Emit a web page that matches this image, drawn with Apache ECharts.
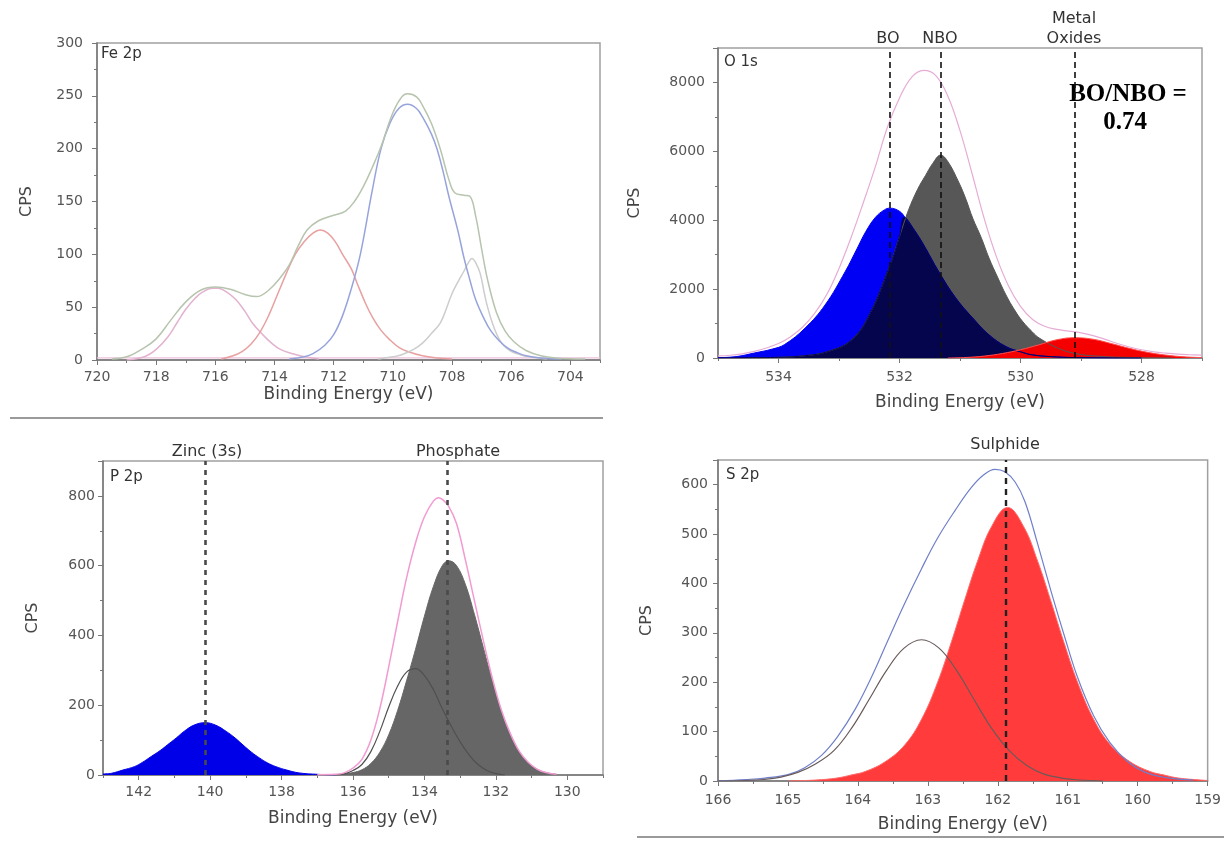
<!DOCTYPE html>
<html>
<head>
<meta charset="utf-8">
<title>XPS spectra</title>
<script src="https://cdn.jsdelivr.net/npm/echarts@6/dist/echarts.min.js"></script>
<style>
  html, body { margin: 0; padding: 0; background: #fff; }
  #chart { width: 1224px; height: 843px; }
</style>
</head>
<body>
<div id="chart"></div>
<script>
// ---- Fe 2p (binding energy eV, CPS) ----
const feXLabels = [704, 706, 708, 710, 712, 714, 716, 718, 720]
const feXMinor = [703, 705, 707, 709, 711, 713, 715, 717, 719]
const feEnvelope = [[719.5,1],[719,3],[718.5,10],[718,20],[717.5,38],[717,55],[716.5,66],[716,69],[715.5,67],[715,62],[714.6,60],[714.2,66],[713.8,78],[713.5,90],[713.2,108],[712.9,123],[712.5,132],[712,137],[711.6,141],[711.3,150],[711,164],[710.7,182],[710.4,202],[710,234],[709.7,249],[709.5,252],[709.2,249],[709,241],[708.7,224],[708.4,200],[708.1,170],[707.9,158],[707.6,156],[707.4,155],[707.2,136],[707,105],[706.8,76],[706.5,45],[706.2,27],[705.9,17],[705.5,9],[705,4],[704.5,2],[703.5,1]]
const feBlue = [[713.5,1],[713,3],[712.7,6],[712.3,14],[712,24],[711.7,42],[711.4,68],[711.1,100],[710.7,160],[710.4,200],[710.1,224],[709.8,238],[709.5,242],[709.2,238],[709,230],[708.7,214],[708.5,199],[708.3,178],[708.1,154],[707.8,122],[707.6,97],[707.4,76],[707.2,57],[706.9,38],[706.7,28],[706.4,18],[706.1,11],[705.8,7],[705.5,4],[705,2],[704.3,1]]
const feRed = [[715.8,1],[715.4,4],[715.1,8],[714.8,15],[714.5,26],[714.2,42],[713.9,62],[713.6,82],[713.3,100],[713,112],[712.7,120],[712.45,123],[712.2,120],[711.95,112],[711.7,100],[711.4,86],[711.2,72],[710.9,52],[710.7,41],[710.4,28],[710.1,19],[709.8,12],[709.5,8],[709,4],[708.5,2],[708,1]]
const fePink = [[719,0],[718.4,3],[718,10],[717.6,22],[717.3,35],[717,48],[716.7,58],[716.45,64],[716.1,68],[715.9,68],[715.6,64],[715.3,57],[715,46],[714.75,35],[714.4,24],[714.1,16],[713.8,10],[713.4,6],[713,3],[712.5,1]]
const feGray = [[710.5,1],[710,3],[709.7,5],[709.3,10],[709,16],[708.7,25],[708.4,35],[708.2,48],[708,63],[707.8,74],[707.6,84],[707.45,92],[707.33,96],[707.2,92],[707.05,82],[706.9,62],[706.8,50],[706.65,36],[706.5,25],[706.3,15],[706.05,9],[705.7,5],[705.4,3],[704.8,1]]
const feBaseline = [[720,2],[703,2]]

// ---- O 1s ----
const oXLabels = [528, 530, 532, 534]
const oXMinor = [527, 529, 531, 533, 535]
const oBO = [[535,10],[534.7,40],[534.4,145],[534.1,260],[533.9,390],[533.56,870],[533.23,1540],[532.9,2500],[532.7,3180],[532.56,3660],[532.4,4080],[532.25,4300],[532.16,4350],[532,4260],[531.9,4060],[531.75,3700],[531.6,3280],[531.35,2500],[531.07,1740],[530.79,1160],[530.52,670],[530.24,330],[530,180],[529.8,90],[529.4,30],[529,10],[528.5,3],[528,0]]
const oNBO = [[534.5,8],[534,20],[533.6,60],[533.2,180],[532.8,513],[532.5,1250],[532.16,2690],[532,3530],[531.85,4300],[531.7,4900],[531.57,5300],[531.45,5650],[531.32,5890],[531.2,5700],[531.02,5100],[530.9,4600],[530.79,4060],[530.65,3500],[530.52,2900],[530.38,2350],[530.24,1830],[530.1,1400],[529.96,1050],[529.8,750],[529.69,580],[529.4,300],[529.1,130],[528.7,50],[528.2,15],[527.5,3]]
const oOverlap = [[535,0],[534.5,8],[534,20],[533.6,60],[533.2,180],[532.8,513],[532.5,1250],[532.16,2690],[532,3530],[531.92,4080],[531.75,3700],[531.6,3280],[531.35,2500],[531.07,1740],[530.79,1160],[530.52,670],[530.24,330],[530,180],[529.8,90],[529.4,30],[529,10],[528.5,3],[528,0]]
const oMetal = [[531.2,0],[530.9,15],[530.6,55],[530.3,130],[530,240],[529.7,380],[529.4,530],[529.11,590],[528.8,545],[528.5,420],[528.2,280],[527.9,165],[527.6,85],[527.3,35],[527,12]]
const oEnvelope = [[535,60],[534.8,80],[534.6,120],[534.4,190],[534.2,290],[534,420],[533.8,620],[533.6,900],[533.4,1300],[533.2,1850],[533,2600],[532.8,3500],[532.6,4500],[532.4,5550],[532.2,6700],[532,7550],[531.8,8150],[531.6,8350],[531.4,8200],[531.2,7600],[531,6600],[530.8,5350],[530.6,4050],[530.4,2950],[530.2,2100],[530,1500],[529.8,1120],[529.6,920],[529.4,830],[529.2,780],[529,730],[528.8,650],[528.6,540],[528.4,420],[528.2,320],[528,240],[527.8,180],[527.6,140],[527.4,110],[527.2,95],[527,85]]
const oMarkers = [532.16, 531.32, 529.11]

// ---- P 2p ----
const pXLabels = [130, 132, 134, 136, 138, 140, 142]
const pXMinor = [129, 131, 133, 135, 137, 139, 141, 143]
const pZinc = [[143,3],[142.76,5],[142.45,14],[142.12,24],[141.9,36],[141.65,53],[141.4,70],[141.2,86],[140.95,106],[140.73,125],[140.45,143],[140.14,150],[139.85,143],[139.55,125],[139.3,106],[139.08,86],[138.85,66],[138.62,49],[138.4,35],[138.16,24],[137.85,14],[137.51,6],[137,2],[136.5,0]]
const pPhosphate = [[136.5,1],[136.25,3],[136,7],[135.75,15],[135.5,33],[135.25,65],[135,115],[134.75,185],[134.5,270],[134.25,360],[134,455],[133.75,540],[133.5,600],[133.32,614],[133.1,600],[132.85,545],[132.6,460],[132.35,365],[132.1,270],[131.85,185],[131.6,118],[131.35,68],[131.1,36],[130.85,17],[130.6,7],[130.3,2]]
const pSecond = [[136.5,0],[136.25,3],[136,13],[135.75,30],[135.5,67],[135.25,125],[135,195],[134.75,255],[134.5,295],[134.25,305],[134,285],[133.75,245],[133.5,190],[133.25,140],[133,95],[132.75,58],[132.5,30],[132.25,13],[132,4],[131.75,0]]
const pEnvelope = [[137,1],[136.5,2],[136.25,6],[136,20],[135.75,45],[135.5,100],[135.25,190],[135,310],[134.75,440],[134.5,565],[134.25,665],[134,740],[133.75,785],[133.6,795],[133.5,790],[133.32,770],[133.1,720],[132.85,615],[132.6,500],[132.35,385],[132.1,278],[131.85,188],[131.6,120],[131.35,69],[131.1,37],[130.85,17],[130.6,7],[130.3,2]]
const pMarkers = [140.14, 133.35]

// ---- S 2p ----
const sXLabels = [159, 160, 161, 162, 163, 164, 165, 166]
const sXMinor = [159.5, 160.5, 161.5, 162.5, 163.5, 164.5, 165.5]
const sSulphide = [[165,0],[164.6,2],[164.3,6],[164.1,12],[163.9,19],[163.61,39],[163.33,73],[163.09,125],[162.86,200],[162.66,283],[162.47,368],[162.29,445],[162.09,515],[161.86,554],[161.63,515],[161.43,445],[161.25,368],[161.06,283],[160.86,200],[160.63,125],[160.39,73],[160.11,39],[159.82,19],[159.62,12],[159.42,6],[159.1,2],[159,1]]
const sSecond = [[166,0],[165.6,1],[165.35,3],[165.1,8],[164.85,18],[164.6,35],[164.34,62],[164.09,107],[163.84,165],[163.59,224],[163.34,269],[163.09,286],[162.84,269],[162.59,224],[162.34,165],[162.09,107],[161.84,62],[161.59,32],[161.34,14],[161.09,6],[160.84,2],[160.5,0]]
const sEnvelope = [[166,0],[165.6,3],[165.33,6],[165,13],[164.76,27],[164.52,52],[164.29,90],[164.04,145],[163.8,212],[163.57,285],[163.33,360],[163.09,430],[162.86,492],[162.61,548],[162.38,594],[162.2,620],[162.04,631],[161.9,626],[161.75,605],[161.61,565],[161.43,480],[161.23,380],[161.04,290],[160.86,210],[160.63,132],[160.4,78],[160.15,40],[159.9,18],[159.6,7],[159.2,2]]
const sMarkers = [161.88]

const FONT = 'DejaVu Sans'
const AXIS = '#777'

function xAxes(gi, min, max, labels, minor, margin, nameGap) {
    return [{
        type: 'value', gridIndex: gi, min: min, max: max, inverse: true, position: 'bottom',
        name: 'Binding Energy (eV)', nameLocation: 'middle', nameGap: nameGap,
        nameTextStyle: { fontFamily: FONT, fontSize: 17, color: '#444' },
        axisLine: { onZero: false, lineStyle: { color: AXIS, width: 1.5 } },
        axisTick: { customValues: labels, length: 5, lineStyle: { color: AXIS } },
        axisLabel: { customValues: labels, margin: margin, fontFamily: FONT, fontSize: 14, color: '#555' },
        splitLine: { show: false }
    }, {
        type: 'value', gridIndex: gi, min: min, max: max, inverse: true, position: 'bottom',
        axisLine: { show: false },
        axisTick: { customValues: minor, length: 3, lineStyle: { color: AXIS } },
        axisLabel: { show: false },
        splitLine: { show: false }
    }]
}

function yAxis(gi, max, interval, margin, nameGap) {
    return {
        type: 'value', gridIndex: gi, min: 0, max: max, interval: interval,
        name: 'CPS', nameLocation: 'middle', nameGap: nameGap,
        nameTextStyle: { fontFamily: FONT, fontSize: 16, color: '#444' },
        axisLine: { show: true, lineStyle: { color: AXIS, width: 1.5 } },
        axisTick: { length: 5, lineStyle: { color: AXIS } },
        minorTick: { show: true, splitNumber: 2, length: 3, lineStyle: { color: AXIS } },
        axisLabel: {
            margin: margin, showMaxLabel: max % interval === 0,
            formatter: v => String(v),
            fontFamily: FONT, fontSize: 14, color: '#555'
        },
        splitLine: { show: false }
    }
}

function line(gi, data, color, width) {
    return {
        type: 'line', xAxisIndex: gi * 2, yAxisIndex: gi, data: data,
        smooth: 0.4, showSymbol: false, silent: true,
        lineStyle: { color: color, width: width || 1.2 }
    }
}

function area(gi, data, color, edge) {
    const s = line(gi, data, edge || color, 1)
    s.areaStyle = { color: color, opacity: 1 }
    return s
}

function markers(values, color, width, dash) {
    return {
        silent: true, symbol: ['none', 'none'], label: { show: false },
        lineStyle: { color: color, width: width, type: dash },
        data: values.map(v => ({ xAxis: v }))
    }
}

function text(str, x, y, opts) {
    const o = opts || {}
    return {
        type: 'text', x: x, y: y, silent: true,
        style: {
            text: str, fontFamily: o.family || FONT, fontSize: o.size || 16,
            fontWeight: o.weight || 'normal', fill: o.color || '#333',
            textAlign: o.align || 'center', textVerticalAlign: 'middle'
        }
    }
}

const chart = echarts.init(document.getElementById('chart'), null, { renderer: 'canvas' })

const grid = (left, top, width, height) => ({
    left: left, top: top, width: width, height: height,
    show: true, borderColor: '#a0a0a0', borderWidth: 1.5, backgroundColor: '#fff'
})

const oEnv = line(1, oEnvelope, '#e6acd6', 1.2)
oEnv.markLine = markers(oMarkers, '#111', 1.6, [6, 4])
const pEnv = line(2, pEnvelope, '#f29ad2', 1.5)
pEnv.markLine = markers(pMarkers, '#4a4a4a', 2.6, [5, 5])
const sTop = line(3, sSecond, '#6a5a5a', 1.2)
sTop.markLine = markers(sMarkers, '#222', 2.4, [6, 5])

const bold = { family: 'Liberation Serif', size: 25, weight: 'bold', color: '#000' }

chart.setOption({
    animation: false,
    grid: [
        grid(97, 43, 503, 317),
        grid(718, 48, 484, 310),
        grid(103, 461, 500, 314),
        grid(718, 460, 490, 321)
    ],
    xAxis: [].concat(
        xAxes(0, 703, 720, feXLabels, feXMinor, 10, 26),
        xAxes(1, 527, 535, oXLabels, oXMinor, 12, 36),
        xAxes(2, 129, 143, pXLabels, pXMinor, 10, 35),
        xAxes(3, 159, 166, sXLabels, sXMinor, 12, 35)
    ),
    yAxis: [
        yAxis(0, 300, 50, 14, 62),
        yAxis(1, 9000, 2000, 13, 75),
        yAxis(2, 900, 200, 8, 62),
        yAxis(3, 650, 100, 10, 63)
    ],
    series: [
        // Fe 2p
        line(0, feBaseline, '#ecc0dc', 1.2),
        line(0, fePink, '#e2b2cf', 1.5),
        line(0, feRed, '#e8a0a0', 1.5),
        line(0, feGray, '#cdcdcd', 1.5),
        line(0, feBlue, '#97a4dc', 1.5),
        line(0, feEnvelope, '#b7c4ae', 1.5),
        // O 1s
        area(1, oBO, '#0000f5'),
        area(1, oNBO, '#575757'),
        area(1, oOverlap, '#05054e'),
        area(1, oMetal, '#f40000', '#ff5050'),
        oEnv,
        // P 2p
        area(2, pZinc, '#0000e8'),
        area(2, pPhosphate, '#666666'),
        line(2, pSecond, '#505050', 1.2),
        pEnv,
        // S 2p
        area(3, sSulphide, '#ff3b3b', '#ff6a6a'),
        line(3, sEnvelope, '#6f7fca', 1.2),
        sTop
    ],
    graphic: [
        { type: 'line', silent: true, shape: { x1: 10, y1: 418, x2: 603, y2: 418 }, style: { stroke: '#9a9a9a', lineWidth: 2 } },
        { type: 'line', silent: true, shape: { x1: 637, y1: 837, x2: 1224, y2: 837 }, style: { stroke: '#9a9a9a', lineWidth: 2 } },
        text('Fe 2p', 101, 54, { size: 15, align: 'left' }),
        text('O 1s', 724, 62, { size: 15, align: 'left' }),
        text('P 2p', 110, 477, { size: 15, align: 'left' }),
        text('S 2p', 726, 475, { size: 15, align: 'left' }),
        text('BO', 888, 39),
        text('NBO', 940, 39),
        text('Metal', 1074, 19),
        text('Oxides', 1074, 39),
        text('BO/NBO =', 1128, 95, bold),
        text('0.74', 1125, 123, bold),
        text('Zinc (3s)', 207, 452),
        text('Phosphate', 458, 452),
        text('Sulphide', 1005, 445)
    ]
})
</script>
</body>
</html>
